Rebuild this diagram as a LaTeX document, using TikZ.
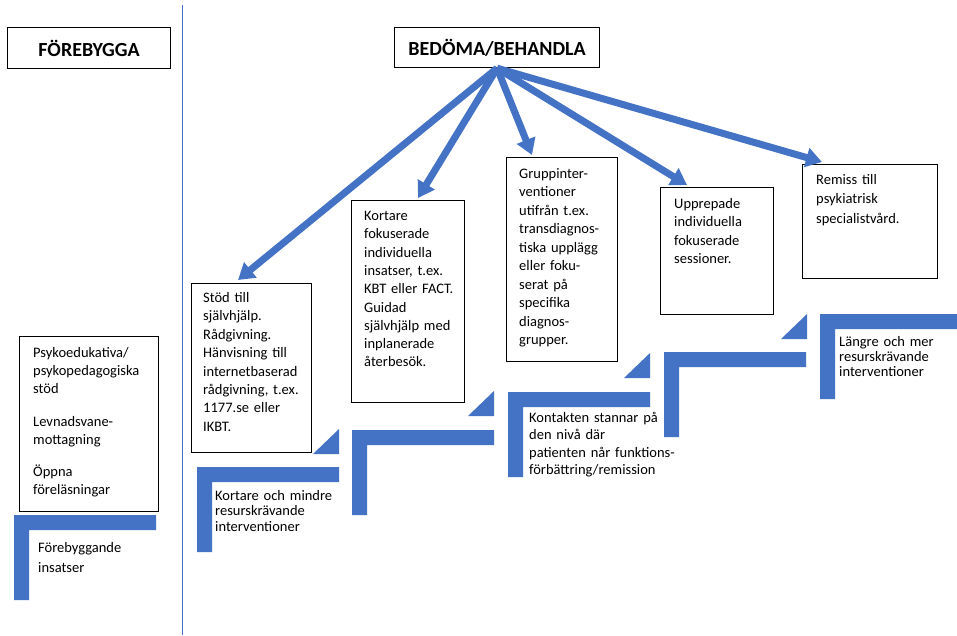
\documentclass[tikz,border=0pt]{standalone}
\usepackage{fontspec}
\setmainfont{Carlito}
\usetikzlibrary{arrows.meta,calc}
\definecolor{stepblue}{HTML}{4472C4}
\begin{document}
\begin{tikzpicture}[x=1pt,y=-1pt,
  box/.style={draw=black, line width=1.2pt, inner sep=0pt, anchor=north west},
  txt/.style={anchor=base west, inner sep=0pt, align=left, text width=170pt},
  fs/.style={font=\fontsize{14.5}{#1}\selectfont},
  head/.style={font=\bfseries\fontsize{20}{22}\selectfont},
  conn/.style={stepblue, line width=7pt, -{Triangle[width=19pt,length=16pt]}},
  stairL/.pic={\fill[stepblue] (0,0) -- (142,0) -- (142,15) -- (15,15) -- (15,85) -- (0,85) -- cycle;},
  stairT/.pic={\fill[stepblue] (0,0) -- (26,0) -- (26,-25) -- cycle;}
]
\useasboundingbox[fill=white] (0,0) rectangle (957,635);

% separator
\draw[stepblue, line width=1pt] (182,5) -- (182,635);

% headings
\node[box, minimum width=163, minimum height=41, head] (fore) at (7,27) {FÖREBYGGA};
\node[box, minimum width=205, minimum height=40, head] (bed) at (394,27) {BEDÖMA/BEHANDLA};

% boxes
\node[box, minimum width=139, minimum height=175] (psyko) at (19,336) {};
\node[box, minimum width=120, minimum height=169] (stod) at (191,283) {};
\node[box, minimum width=113, minimum height=202] (kort) at (351,200) {};
\node[box, minimum width=111, minimum height=204] (grupp) at (506,157) {};
\node[box, minimum width=113, minimum height=127] (upp) at (660,187) {};
\node[box, minimum width=135, minimum height=114] (remiss) at (802,164) {};

% box texts
\node[txt, fs=18] (psykot) at (33,357) {Psykoedukativa/\\psykopedagogiska\\stöd\\[15pt]Levnadsvane-\\mottagning\\[14pt]Öppna\\föreläsningar};
\node[txt, fs=18.4] (stodt) at (203,302.5) {Stöd till\\självhjälp.\\Rådgivning.\\Hänvisning till\\internetbaserad\\rådgivning, t.ex.\\1177.se eller\\IKBT.};
\node[txt, fs=18.3] (kortt) at (364,220.5) {Kortare\\fokuserade\\individuella\\insatser, t.ex.\\KBT eller FACT.\\Guidad\\självhjälp med\\inplanerade\\återbesök.};
\node[txt, fs=18.45] (gruppt) at (519,178.5) {Gruppinter-\\ventioner\\utifrån t.ex.\\transdiagnos-\\tiska upplägg\\eller foku-\\serat på\\specifika\\diagnos-\\grupper.};
\node[txt, fs=18.3] (uppt) at (674,208.5) {Upprepade\\individuella\\fokuserade\\sessioner.};
\node[txt, fs=19.3] (remisst) at (816,184.5) {Remiss till\\psykiatrisk\\specialistvård.};

% stairs
\pic at (14,515) {stairL};
\pic at (197,467) {stairL};
\pic at (352,430) {stairL};
\pic at (508,392) {stairL};
\pic at (664,352) {stairL};
\fill[stepblue] (820,314) -- (960,314) -- (960,329) -- (835,329) -- (835,399) -- (820,399) -- cycle;
\pic at (313,454) {stairT};
\pic at (468,416) {stairT};
\pic at (624,378) {stairT};
\pic at (781,339) {stairT};

% stair labels
\node[txt, fs=20] (foret) at (38,552) {Förebyggande\\insatser};
\node[txt, fs=15.5] (mindret) at (215,500) {Kortare och mindre\\resurskrävande\\interventioner};
\node[txt, fs=17.6] (kontaktt) at (529,422) {Kontakten stannar på\\den nivå där\\patienten når funktions-\\förbättring/remission};
\node[txt, fs=15.2] (langret) at (839,346) {Längre och mer\\resurskrävande\\interventioner};

% arrow tips
\coordinate (t1) at ($(stod.north west)+(47,-3)$);
\coordinate (t2) at ($(kort.north west)+(67,-2)$);
\coordinate (t3) at ($(grupp.north west)+(26,-2)$);
\coordinate (t4) at ($(upp.north west)+(27,-2)$);
\coordinate (t5) at ($(remiss.north west)+(20,-2)$);

\draw[conn] (bed.south) -- (t1);
\draw[conn] (bed.south) -- (t2);
\draw[conn] (bed.south) -- (t3);
\draw[conn] (bed.south) -- (t4);
\draw[conn] (bed.south) -- (t5);
\end{tikzpicture}
\end{document}
